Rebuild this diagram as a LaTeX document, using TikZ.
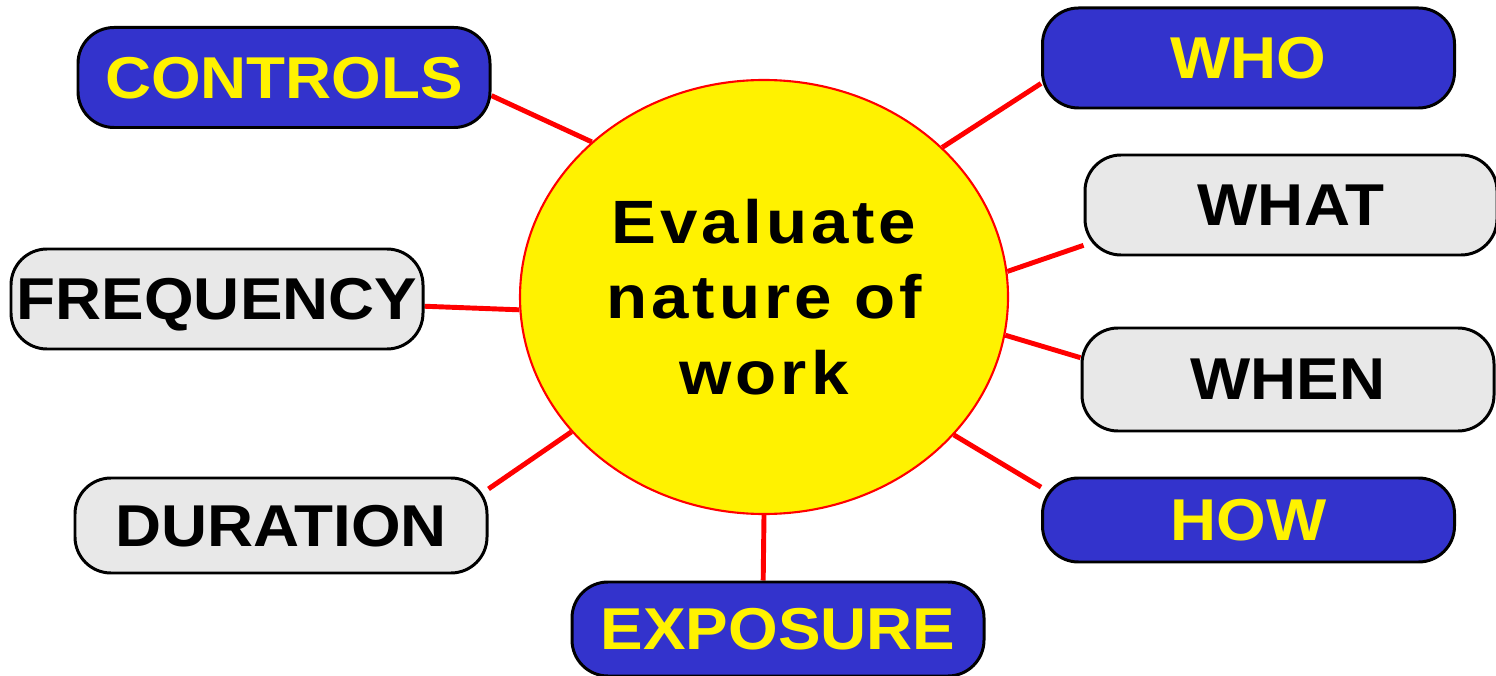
\documentclass[tikz,border=0pt]{standalone}
\usepackage{fontspec}
\setmainfont{Liberation Sans}[FakeStretch=1.08]
\newfontfamily\evalfont[LetterSpace=6.5,FakeStretch=1.1]{Liberation Sans}
\usetikzlibrary{
    shapes.geometric,
    positioning,
    backgrounds
}
\definecolor{topicblue}{HTML}{3333CC}
\definecolor{topicgray}{HTML}{E8E8E8}

\begin{document}
\begin{tikzpicture}[
    hub/.style={ellipse, minimum width=4.88cm, minimum height=4.34cm, inner sep=0pt,
                align=center, draw=red, line width=0.6pt, fill=yellow,
                font=\evalfont\bfseries\fontsize{17.4}{21.5}\selectfont},
    topic/.style={rectangle, rounded corners=0.36cm, minimum width=4.12cm, minimum height=1cm,
                  inner sep=0pt, text depth=0pt, text centered, draw=black, line width=0.85pt,
                  font=\bfseries\fontsize{16.8}{20}\selectfont},
    bluetopic/.style={topic, fill=topicblue, text=yellow},
    graytopic/.style={topic, fill=topicgray, text=black},
    link/.style={red, line width=1.4pt}
]
    \useasboundingbox (0,0) rectangle (14.96,6.75);

    % Centre
    \node (eval) [hub] at (7.64,3.78) {Evaluate\\nature of\\work};

    % Left topics
    \node (controls) [bluetopic] at (2.84,5.975) {CONTROLS};
    \node (frequency) [graytopic] at (2.17,3.76) {FREQUENCY};
    \node (duration) [graytopic, minimum height=0.95cm] at (2.81,1.495) {DURATION};
    \node (exposure) [bluetopic, minimum height=0.94cm] at (7.78,0.46) {EXPOSURE};

    % Right topics
    \node (who) [bluetopic] at (12.485,6.17) {WHO};
    \node (what) [graytopic] at (12.91,4.70) {WHAT};
    \node (when) [graytopic, minimum height=1.03cm] at (12.88,2.955) {WHEN};
    \node (how) [bluetopic, minimum height=0.84cm] at (12.485,1.55) {HOW};

    % Connections
    \begin{scope}[on background layer]
        \draw [link] (controls.-5) -- (eval.138);
        \draw [link] (frequency.-2) -- (eval.183);
        \draw [link] (duration.10) -- (eval.-145);
        \draw [link] (exposure.107) -- (eval.-90);
        \draw [link] (who.187) -- (eval.40);
        \draw [link] (what.191) -- (eval.6);
        \draw [link] (when.174) -- (eval.-9);
        \draw [link] (how.171) -- (eval.-36);
    \end{scope}

\end{tikzpicture}
\end{document}
